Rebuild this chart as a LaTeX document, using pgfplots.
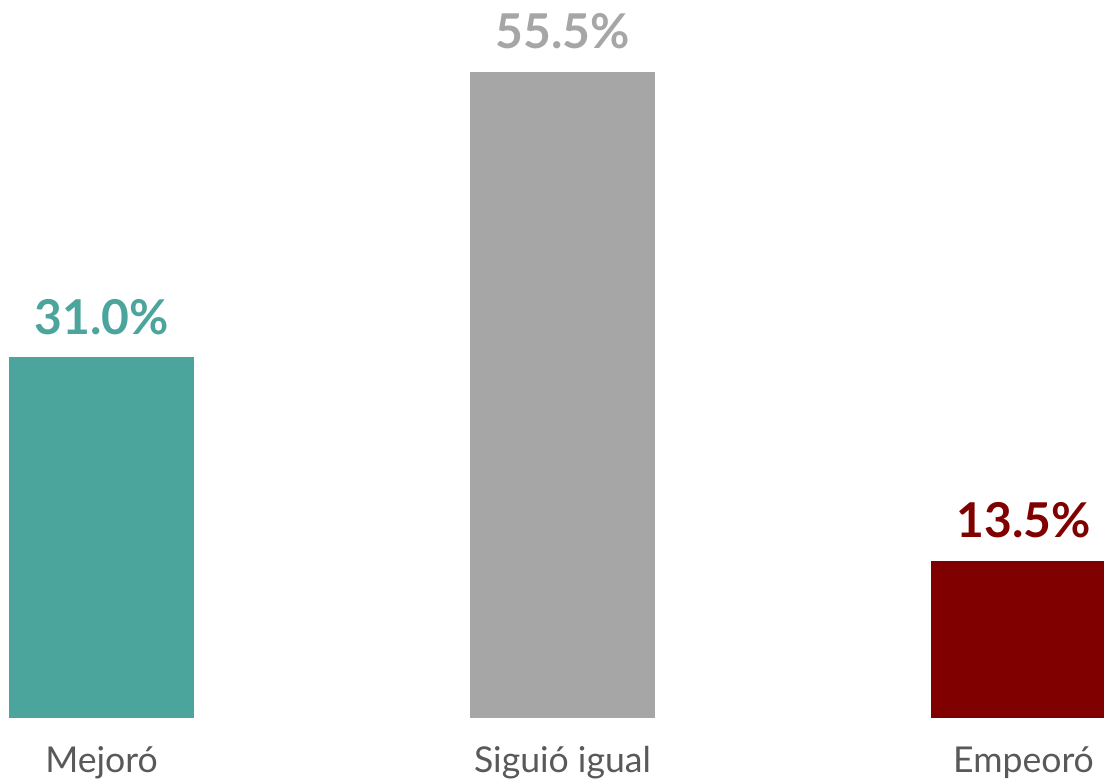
\documentclass[border=0pt]{standalone}
\usepackage{pgfplots}
\pgfplotsset{compat=1.18}
\usepackage{fontspec}
\setmainfont{Lato}
\definecolor{cteal}{HTML}{4BA59D}
\definecolor{cgray}{HTML}{A6A6A6}
\definecolor{cred}{HTML}{800000}
\definecolor{ctick}{HTML}{595959}
\begin{document}
\begin{tikzpicture}
\clip (0,-31.5pt) rectangle (552pt,359pt);
\begin{axis}[
  at={(0,0)}, anchor=south west,
  scale only axis,
  width=552pt, height=359pt,
  xmin=-0.22017, xmax=2.17462,
  ymin=0, ymax=61.68,
  axis line style={draw=none},
  ytick=\empty,
  xtick={0,1,2},
  xticklabels={Mejoró,Siguió igual,Empeoró},
  major tick length=0pt,
  xticklabel style={anchor=base, yshift=-27.3pt, font=\fontsize{17.8pt}{21pt}\selectfont, text=ctick},
  ybar, bar width=92.5pt, bar shift=0pt,
  clip=false,
  /pgf/number format/assume math mode=true,
  nodes near coords={\pgfmathprintnumber[fixed,fixed zerofill,precision=1]{\pgfplotspointmeta}\%},
  every node near coord/.append style={anchor=base, yshift=11.5pt, font=\fontsize{24pt}{28pt}\selectfont\bfseries},
]
\addplot[fill=cteal, draw=none, every node near coord/.append style={text=cteal}] coordinates {(0,31.0)};
\addplot[fill=cgray, draw=none, every node near coord/.append style={text=cgray}] coordinates {(1,55.5)};
\addplot[fill=cred, draw=none, every node near coord/.append style={text=cred}] coordinates {(2,13.5)};
\end{axis}
\end{tikzpicture}
\end{document}
